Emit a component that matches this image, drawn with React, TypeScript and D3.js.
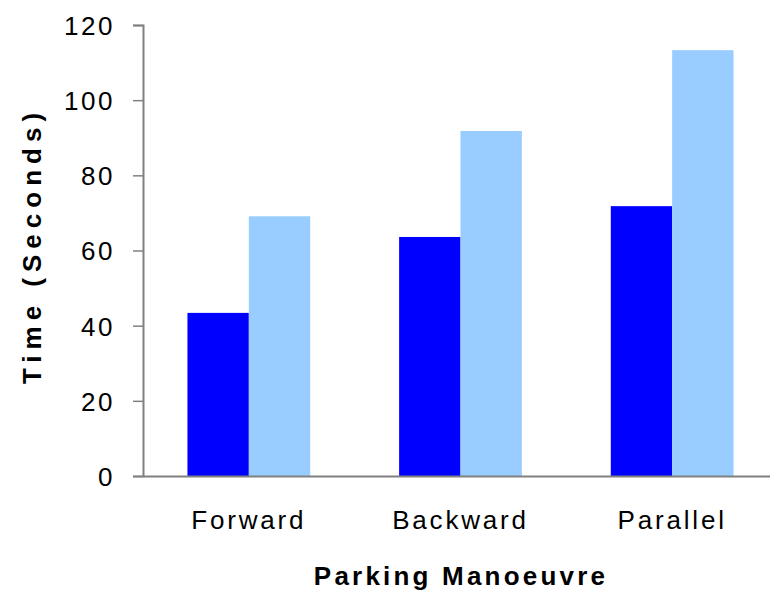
import React, { useEffect, useRef } from 'react';
import * as d3 from 'd3';

const categories = ['Forward', 'Backward', 'Parallel'];
const seriesNames = ['Series A', 'Series B'];
const seriesA = [43.4, 63.6, 71.8];
const seriesB = [69.1, 91.8, 113.3];
const yTicks = [0, 20, 40, 60, 80, 100, 120];
const colors = ['#0000FF', '#99CCFF'];

const App = () => {
  const ref = useRef<SVGSVGElement>(null);

  useEffect(() => {
    document.body.style.margin = '0';
    const width = 770;
    const height = 592;
    const margin = { top: 25, right: -8, bottom: 116, left: 143 };

    const svg = d3.select(ref.current);
    svg.selectAll('*').remove();

    const x = d3.scaleBand()
      .domain(categories)
      .range([margin.left, width - margin.right])
      .paddingInner(0.42)
      .paddingOuter(0.21);

    const xSub = d3.scaleBand()
      .domain(seriesNames)
      .range([0, x.bandwidth()]);

    const y = d3.scaleLinear()
      .domain([0, 120])
      .range([height - margin.bottom, margin.top]);

    const values = [seriesA, seriesB];

    // bars
    seriesNames.forEach((s, si) => {
      svg.append('g')
        .selectAll('rect')
        .data(categories)
        .enter()
        .append('rect')
        .attr('x', c => (x(c) as number) + (xSub(s) as number))
        .attr('y', (c, i) => y(values[si][i]))
        .attr('width', xSub.bandwidth())
        .attr('height', (c, i) => y(0) - y(values[si][i]))
        .attr('fill', colors[si]);
    });

    const font = 'Liberation Sans, Arial, sans-serif';

    // y axis
    const yAxis = svg.append('g')
      .attr('transform', `translate(${margin.left},0)`)
      .call(d3.axisLeft(y).tickValues(yTicks).tickSize(10).tickPadding(18));
    yAxis.select('.domain').attr('stroke', '#808080').attr('stroke-width', 2);
    yAxis.selectAll('.tick line').attr('stroke', '#808080').attr('stroke-width', 1.5);
    yAxis.selectAll('.tick text')
      .attr('fill', '#000')
      .style('font-family', font)
      .style('font-size', '26px')
      .style('letter-spacing', '2.5px')
      .attr('dy', '0.36em');

    // x axis
    const xAxis = svg.append('g')
      .attr('transform', `translate(0,${y(0)})`)
      .call(d3.axisBottom(x).tickSize(0).tickPadding(35));
    xAxis.select('.domain').attr('stroke', '#808080').attr('stroke-width', 2);
    xAxis.selectAll('.tick text')
      .attr('fill', '#000')
      .style('font-family', font)
      .style('font-size', '26px')
      .style('letter-spacing', '2.8px')
      .attr('dy', '0.71em');

    // axis titles
    svg.append('text')
      .attr('x', 461)
      .attr('y', 585)
      .attr('text-anchor', 'middle')
      .style('font-family', font)
      .style('font-size', '26px')
      .style('font-weight', 'bold')
      .style('letter-spacing', '3.2px')
      .text('Parking Manoeuvre');

    svg.append('text')
      .attr('transform', `translate(41,${(y(0) + y(120)) / 2 - 5}) rotate(-90)`)
      .attr('text-anchor', 'middle')
      .style('font-family', font)
      .style('font-size', '26px')
      .style('font-weight', 'bold')
      .style('letter-spacing', '6px')
      .text('Time (Seconds)');
  }, []);

  return <svg ref={ref} width={770} height={592} style={{ display: 'block', background: '#fff' }} />;
};

export default App;
